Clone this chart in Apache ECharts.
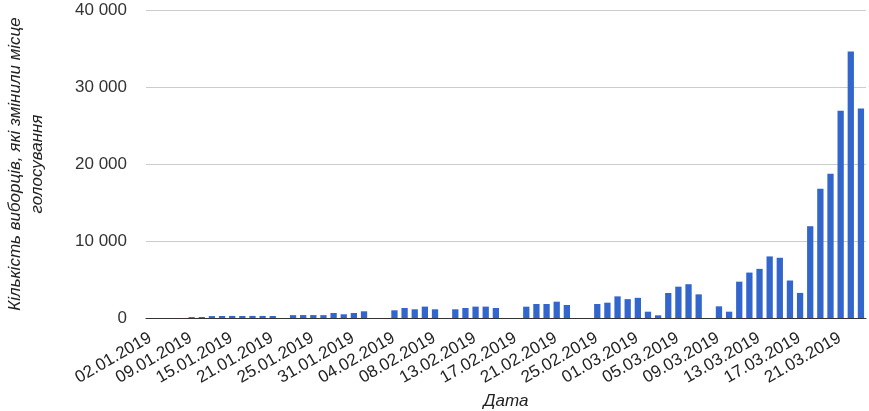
<!DOCTYPE html>
<html>
<head>
<meta charset="utf-8">
<script src="https://cdn.jsdelivr.net/npm/echarts@6/dist/echarts.min.js"></script>
<style>
  html, body { margin: 0; padding: 0; background: #fff; }
  #chart { width: 869px; height: 411px; }
</style>
</head>
<body>
<div id="chart"></div>
<script>
// Dates (categories)
const categories = [
  '02.01.2019','03.01.2019','04.01.2019','08.01.2019','09.01.2019',
  '10.01.2019','11.01.2019','14.01.2019','15.01.2019',
  '16.01.2019','17.01.2019','18.01.2019','21.01.2019',
  '22.01.2019','23.01.2019','24.01.2019','25.01.2019',
  '28.01.2019','29.01.2019','30.01.2019','31.01.2019',
  '01.02.2019','02.02.2019','03.02.2019','04.02.2019',
  '05.02.2019','06.02.2019','07.02.2019','08.02.2019',
  '09.02.2019','11.02.2019','12.02.2019','13.02.2019',
  '14.02.2019','15.02.2019','16.02.2019','17.02.2019',
  '18.02.2019','19.02.2019','20.02.2019','21.02.2019',
  '22.02.2019','23.02.2019','24.02.2019','25.02.2019',
  '26.02.2019','27.02.2019','28.02.2019','01.03.2019',
  '02.03.2019','03.03.2019','04.03.2019','05.03.2019',
  '06.03.2019','07.03.2019','08.03.2019','09.03.2019',
  '10.03.2019','11.03.2019','12.03.2019','13.03.2019',
  '14.03.2019','15.03.2019','16.03.2019','17.03.2019',
  '18.03.2019','19.03.2019','20.03.2019','21.03.2019',
  '22.03.2019','23.03.2019'
];

// Number of voters who changed voting place (per date)
const votersChanged = [
  0, 0, 0, 0, 120,
  130, 250, 260, 270,
  260, 270, 270, 260,
  0, 370, 380, 380,
  370, 650, 480, 650,
  870, 0, 0, 1000,
  1300, 1130, 1480, 1130,
  0, 1130, 1300, 1480,
  1480, 1300, 0, 0,
  1470, 1820, 1820, 2120,
  1690, 0, 0, 1820,
  1990, 2810, 2450, 2620,
  820, 350, 3250, 4070,
  4390, 3070, 0, 1515,
  820, 4720, 5900, 6380,
  8000, 7820, 4870, 3260,
  11920, 16780, 18730, 26910,
  34600, 27210
];

const yMin = 0;
const yMax = 40000;
const yStep = 10000;

const xTitle = 'Дата';
const yTitle = 'Кількість виборців, які змінили місце\nголосування';

const font = '"Liberation Sans", Arial, sans-serif';

const chart = echarts.init(document.getElementById('chart'), null, { renderer: 'canvas' });
chart.setOption({
  animation: false,
  backgroundColor: '#ffffff',
  grid: { left: 146, right: 3, top: 10, bottom: 93, containLabel: false, outerBoundsMode: 'none' },
  xAxis: {
    type: 'category',
    data: categories,
    name: xTitle,
    nameLocation: 'middle',
    nameGap: 72,
    nameTextStyle: { fontFamily: font, fontSize: 17, fontStyle: 'italic', color: '#222' },
    axisLine: { show: true, lineStyle: { color: '#333', width: 1 } },
    axisTick: { show: false },
    axisLabel: {
      interval: 3,
      rotate: 30,
      margin: 28,
      verticalAlign: 'bottom',
      padding: [0, -4, 0, 0],
      fontFamily: font,
      fontSize: 17,
      color: '#222'
    }
  },
  yAxis: {
    type: 'value',
    min: yMin,
    max: yMax,
    interval: yStep,
    name: yTitle,
    nameLocation: 'middle',
    nameRotate: 90,
    nameGap: 98,
    nameTextStyle: { fontFamily: font, fontSize: 17, fontStyle: 'italic', color: '#222', lineHeight: 22, align: 'center' },
    axisLine: { show: false },
    axisTick: { show: false },
    splitLine: { show: true, lineStyle: { color: '#cccccc', width: 1 } },
    axisLabel: {
      margin: 19,
      fontFamily: font,
      fontSize: 17,
      color: '#333',
      formatter: function (v) { return String(v).replace(/\B(?=(\d{3})+(?!\d))/g, ' '); }
    }
  },
  series: [{
    type: 'bar',
    data: votersChanged,
    barWidth: '62%',
    itemStyle: { color: '#3366cc' }
  }]
});
</script>
</body>
</html>
